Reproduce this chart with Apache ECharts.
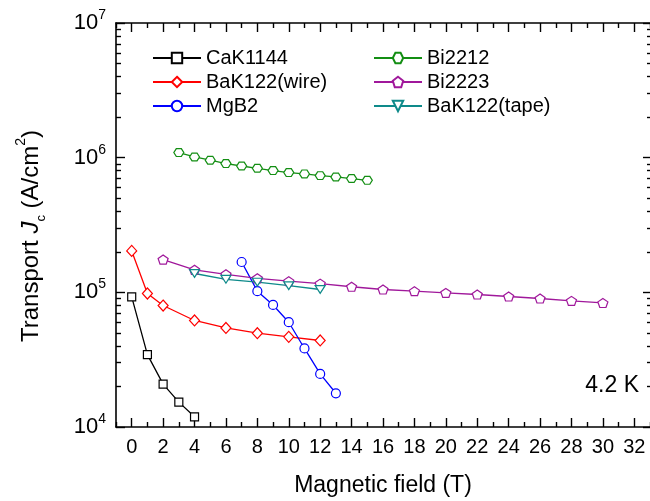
<!DOCTYPE html>
<html>
<head>
<meta charset="utf-8">
<script src="https://cdn.jsdelivr.net/npm/echarts@6/dist/echarts.min.js"></script>
<style>
  html, body { margin: 0; padding: 0; background: #fff; }
  #chart { width: 650px; height: 501px; }
</style>
</head>
<body>
<div id="chart"></div>
<script>
// Transport critical current density at 4.2 K versus applied magnetic field
const cak1144Field = [0, 1, 2, 3, 4];
const cak1144Jc = [92500, 34500, 20800, 15300, 11900];

const bak122WireField = [0, 1, 2, 4, 6, 8, 10, 12];
const bak122WireJc = [203000, 98000, 79800, 61800, 54400, 49700, 46700, 43900];

const mgb2Field = [7, 8, 9, 10, 11, 12, 13];
const mgb2Jc = [168000, 102000, 80600, 60000, 38300, 24800, 17800];

const bi2212Field = [3, 4, 5, 6, 7, 8, 9, 10, 11, 12, 13, 14, 15];
const bi2212Jc = [1091000, 1012000, 957000, 904000, 867000, 834000, 802000, 775000, 757000, 736000, 719000, 700000, 679000];

const bi2223Field = [2, 4, 6, 8, 10, 12, 14, 16, 18, 20, 22, 24, 26, 28, 30];
const bi2223Jc = [175000, 147000, 136000, 127000, 121000, 116000, 110000, 105000, 102000, 99000, 96400, 93100, 90000, 86400, 83400];

const bak122TapeField = [4, 6, 8, 10, 12];
const bak122TapeJc = [138000, 125000, 119000, 112000, 105000];

const xTickLabels = [0, 2, 4, 6, 8, 10, 12, 14, 16, 18, 20, 22, 24, 26, 28, 30, 32];
const yDecades = [4, 5, 6, 7];

const X_MIN = -1;
const X_MAX = 33;

// plot frame
const FRAME = { left: 116, top: 23, width: 536, height: 404 };

// one slot per tesla across the frame, used for the tick-only axes
const xSlots = [];
for (let v = X_MIN; v <= X_MAX; v++) xSlots.push(String(v));

// minor ticks of the log axis, expressed as exponents
const yMinorTicks = [];
for (let n = 4; n < 7; n++) {
  for (let k = 2; k <= 9; k++) yMinorTicks.push(n + Math.log10(k));
}

const FONT = 'Liberation Sans, Arial, sans-serif';

const HEX = 'path://M-5,0 L-2.5,-4.33 L2.5,-4.33 L5,0 L2.5,4.33 L-2.5,4.33 Z';
const PENT = 'path://M0,-5 L4.76,-1.55 L2.94,4.05 L-2.94,4.05 L-4.76,-1.55 Z';
const TRI_DOWN = 'path://M0,0 L10,0 L5,8.66 Z';

function pairs(xs, ys) {
  return xs.map((x, i) => [x, ys[i]]);
}

function makeSeries(name, xs, ys, color, symbol, size) {
  return {
    name: name,
    type: 'line',
    xAxisIndex: 0,
    yAxisIndex: 0,
    data: pairs(xs, ys),
    symbol: symbol,
    symbolSize: size,
    symbolKeepAspect: true,
    showSymbol: true,
    animation: false,
    lineStyle: { color: color, width: 1.3 },
    itemStyle: { color: '#fff', borderColor: color, borderWidth: 1.2 },
    emphasis: { disabled: true }
  };
}

const axisLineStyle = { color: '#000', width: 1.6 };
const tickLineStyle = { color: '#000', width: 1.4 };

// tick-only category axis along x: even = major ticks, odd = minor ticks.
// mirrored axes sit on the bottom slot and are shifted up to the top edge,
// with ticks pointing down into the frame.
function xTickAxis(mirror, even, len, showLine) {
  return {
    type: 'category',
    position: 'bottom',
    offset: mirror ? -FRAME.height : 0,
    data: xSlots,
    boundaryGap: false,
    splitLine: { show: false },
    axisLine: { show: showLine, onZero: false, lineStyle: axisLineStyle },
    axisTick: {
      show: true,
      inside: !mirror,
      length: len,
      lineStyle: tickLineStyle,
      interval: (idx, val) => (Math.abs(Number(val)) % 2 === 0) === even
    },
    axisLabel: { show: false }
  };
}

// tick-only value axis along y (exponent space); mirrored ones are shifted to the right edge
function yTickAxis(mirror, values, len, showLine, showLabels) {
  return {
    type: 'value',
    position: 'left',
    offset: mirror ? -FRAME.width : 0,
    min: 4,
    max: 7,
    interval: 1,
    splitLine: { show: false },
    axisLine: { show: showLine, onZero: false, lineStyle: axisLineStyle },
    axisTick: { show: true, inside: !mirror, length: len, customValues: values, lineStyle: tickLineStyle },
    axisLabel: showLabels
      ? {
          show: true,
          customValues: values,
          margin: 10,
          formatter: v => '{b|10}{s|' + Math.round(v) + '}',
          rich: {
            b: { fontSize: 22, lineHeight: 30, color: '#000', fontFamily: FONT },
            s: { fontSize: 14, lineHeight: 20, verticalAlign: 'top', color: '#000', fontFamily: FONT }
          }
        }
      : { show: false }
  };
}

const legendText = { fontSize: 20, lineHeight: 20, color: '#000', fontFamily: FONT };

function legendColumn(names, left) {
  return {
    data: names,
    orient: 'vertical',
    left: left,
    top: 48,
    padding: 0,
    itemWidth: 48,
    itemHeight: 13,
    itemGap: 4,
    selectedMode: false,
    textStyle: legendText
  };
}

const option = {
  backgroundColor: '#fff',
  animation: false,
  grid: Object.assign({ containLabel: false }, FRAME),
  xAxis: [
    {
      type: 'value',
      position: 'bottom',
      min: X_MIN,
      max: X_MAX,
      splitLine: { show: false },
      axisLine: { show: true, onZero: false, lineStyle: axisLineStyle },
      axisTick: { show: false },
      axisLabel: { show: true, customValues: xTickLabels, margin: 10, color: '#000', fontSize: 20, fontFamily: FONT }
    },
    xTickAxis(false, true, 9, false),
    xTickAxis(false, false, 5, false),
    xTickAxis(true, true, 9, true),
    xTickAxis(true, false, 5, false)
  ],
  yAxis: [
    {
      type: 'log',
      logBase: 10,
      position: 'left',
      min: 1e4,
      max: 1e7,
      splitLine: { show: false },
      axisLine: { show: true, onZero: false, lineStyle: axisLineStyle },
      axisTick: { show: false },
      axisLabel: { show: false }
    },
    yTickAxis(false, yDecades, 9, false, true),
    yTickAxis(false, yMinorTicks, 5, false, false),
    yTickAxis(true, yDecades, 9, true, false),
    yTickAxis(true, yMinorTicks, 5, false, false)
  ],
  legend: [
    legendColumn(['CaK1144', 'BaK122(wire)', 'MgB2'], 152),
    legendColumn(['Bi2212', 'Bi2223', 'BaK122(tape)'], 373)
  ],
  graphic: [
    {
      type: 'text',
      x: 383,
      y: 486,
      style: {
        text: 'Magnetic field (T)',
        align: 'center',
        verticalAlign: 'middle',
        fontSize: 23,
        fontFamily: FONT,
        fill: '#000'
      }
    },
    {
      type: 'text',
      x: 31,
      y: 236,
      rotation: Math.PI / 2,
      style: {
        text: '{n|Transport }{i|J}{sub|c}{n| (A/cm}{sup|2}{n|)}',
        align: 'center',
        verticalAlign: 'middle',
        rich: {
          n: { fontSize: 24, lineHeight: 34, fontFamily: FONT, fill: '#000' },
          i: { fontSize: 24, lineHeight: 34, fontStyle: 'italic', fontFamily: FONT, fill: '#000' },
          sub: { fontSize: 13, lineHeight: 13, verticalAlign: 'bottom', fontFamily: FONT, fill: '#000' },
          sup: { fontSize: 14, lineHeight: 16, verticalAlign: 'top', fontFamily: FONT, fill: '#000' }
        }
      }
    },
    {
      type: 'text',
      x: 639,
      y: 386,
      style: {
        text: '4.2 K',
        align: 'right',
        verticalAlign: 'middle',
        fontSize: 23,
        fontFamily: FONT,
        fill: '#000'
      }
    }
  ],
  series: [
    makeSeries('CaK1144', cak1144Field, cak1144Jc, '#000000', 'rect', 8),
    makeSeries('BaK122(wire)', bak122WireField, bak122WireJc, '#ff0000', 'diamond', [10, 11]),
    makeSeries('MgB2', mgb2Field, mgb2Jc, '#0000ff', 'circle', 9),
    makeSeries('Bi2212', bi2212Field, bi2212Jc, '#138e13', HEX, [10, 9]),
    makeSeries('Bi2223', bi2223Field, bi2223Jc, '#a0189b', PENT, [10, 9.5]),
    makeSeries('BaK122(tape)', bak122TapeField, bak122TapeJc, '#0e8a8a', TRI_DOWN, [10, 9])
  ]
};

const chart = echarts.init(document.getElementById('chart'), null, { renderer: 'canvas' });
chart.setOption(option);
</script>
</body>
</html>
